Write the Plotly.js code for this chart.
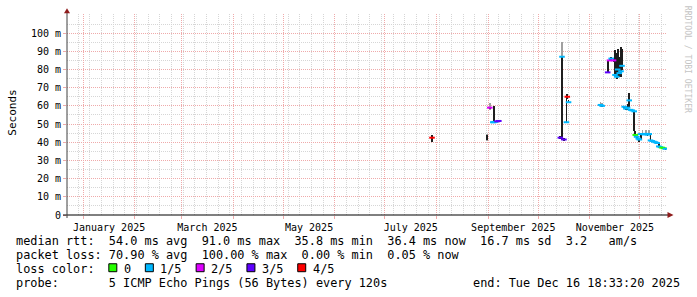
<!DOCTYPE html>
<html><head><meta charset="utf-8">
<script src="https://cdn.plot.ly/plotly-3.0.1.min.js"></script>
<style>html,body{margin:0;padding:0;background:#fff}#chart{width:697px;height:297px}</style>
</head><body><div id="chart"></div>
<script>
// ---- data (values in milliseconds) ----
const times = [
 '2025-07-29 06:00','2025-08-31 00:00','2025-09-01 22:00','2025-09-03 18:00','2025-09-04 06:00',
 '2025-09-05 06:00','2025-09-06 06:00','2025-09-07 08:00','2025-10-14 06:00','2025-10-15 06:00',
 '2025-10-16 10:00','2025-10-17 22:00','2025-10-18 10:00','2025-10-19 04:00','2025-11-07 08:00',
 '2025-11-08 08:00','2025-11-11 16:00','2025-11-12 18:00','2025-11-13 19:00','2025-11-15 04:00',
 '2025-11-16 01:00','2025-11-17 02:00','2025-11-17 16:00','2025-11-18 15:00','2025-11-19 16:00',
 '2025-11-20 06:00','2025-11-21 14:00','2025-11-22 14:00','2025-11-23 14:00','2025-11-24 14:00',
 '2025-11-25 10:00','2025-11-26 10:00','2025-11-27 14:00','2025-11-28 05:00','2025-11-29 00:00',
 '2025-11-30 00:00','2025-11-30 16:00','2025-12-01 14:00','2025-12-02 14:00','2025-12-03 14:00',
 '2025-12-04 14:00','2025-12-05 14:00','2025-12-06 14:00','2025-12-07 08:00','2025-12-08 08:00',
 '2025-12-09 08:00','2025-12-10 08:00','2025-12-11 08:00','2025-12-12 08:00','2025-12-13 08:00',
 '2025-12-14 08:00','2025-12-15 08:00','2025-12-16 08:00'];
const medianMs = [
 42.5,null,59,51,51, 51.2,51.5,51.7,42.5,87, 41.5,51,65,62,60.5,
 60,78.4,85,86,85, 77,76,80,78,79, 82,59.5,58.5,59,63,
 57.8,57.5,57,44,43, 42,41.5,44.5,44.5,44.3, 44.6,44.2,44.5,41,40.7,
 40.3,40,39.6,37.7,37.3, 37,36.7,36.4];
const smokeLoMs = [
 40,41,58.3,50.5,50.5, 50.7,51,51.2,42,41.5, 40.8,51,64,61.4,60,
 59.6,78,84.5,85.3,84, 76,75,77.8,76,76, 79.6,59,58,58,59,
 57.2,57,46,43.5,42.5, 41.4,40,41.5,44,43.8, 44,43.7,44,40.6,40.2,
 39.8,39.5,39.2,37.3,36.9, 36.5,36.2,35.9];
const smokeHiMs = [
 44,44,59.6,51.5,60, 51.8,52,52.3,43.2,87, 42.3,66,66.3,63,61,
 60.8,85,86,86.8,86, 90.5,88.8,91.5,87,92.3, 91.5,60.2,59.2,61,67,
 58.4,58,57.5,46,43.6, 42.6,42,45,45.2,45, 45.2,44.8,45,44.5,41.2,
 40.8,40.5,40.1,39.5,37.8, 37.5,37.2,36.9];
const outerLoMs = [
 null,40.8,57.7,null,null, null,null,null,null,41.5, null,null,null,null,59.6,
 59.5,null,null,null,null, null,null,null,null,null, null,null,null,null,null,
 null,null,null,null,null, null,null,null,44,null, 44,null,43.8,null,null,
 null,null,null,null,null, null,null,null];
const outerHiMs = [
 null,44.6,61.5,null,null, null,null,null,null,95, null,null,null,null,62,
 61.8,null,null,null,null, null,null,null,null,null, null,null,null,null,null,
 null,null,null,null,null, null,null,null,46.8,null, 47,null,46.5,null,null,
 null,null,null,null,null, null,null,null];
const lossClass = [
 4,null,2,1,1, 1,3,3,3,1, 3,1,4,1,1,
 1,3,2,1,2, 1,1,1,1,1, 1,1,1,1,1,
 1,1,1,0,1, 1,1,1,1,1, 1,1,1,1,1,
 1,1,1,1,1, 0,0,1];
const lossLabels = ['0','1/5','2/5','3/5','4/5'];
const lossColors = ['#26ff00','#00b8ff','#dd00ff','#5e00ff','#ff0000'];
const yTickVals = [0,0.01,0.02,0.03,0.04,0.05,0.06,0.07,0.08,0.09,0.1];
const yTickText = ['0','10 m','20 m','30 m','40 m','50 m','60 m','70 m','80 m','90 m','100 m'];
const rttLine  = 'median rtt:  54.0 ms avg  91.0 ms max  35.8 ms min  36.4 ms now  16.7 ms sd  3.2   am/s';
const lossLine = 'packet loss: 70.90 % avg  100.00 % max  0.00 % min  0.05 % now';
const lossHead = 'loss color:';
const probeLine = 'probe:       5 ICMP Echo Pings (56 Bytes) every 120s';
const endLine = 'end: Tue Dec 16 18:33:20 2025';

// ---- geometry helpers (pixels -> paper) ----
const W=697, H=297, L=67, R=30, T=13.5, B=81.5;
const PW=W-L-R, PH=H-T-B, BOT=T+PH;
const px=p=>(p-L)/PW, py=p=>(BOT-p)/PH;
const nb=s=>s.replace(/ /g,'\u00a0');
const MONO='DejaVu Sans Mono';
const s=v=>v==null?null:v/1000;

const traces=[
 {type:'bar',x:times,base:outerLoMs.map(s),y:outerHiMs.map((v,i)=>v==null?null:(v-outerLoMs[i])/1000),
  width:86400000*1.1,marker:{color:'#a0a0a0',line:{width:0}},hoverinfo:'skip',showlegend:false},
 {type:'bar',x:times,base:smokeLoMs.map(s),y:smokeHiMs.map((v,i)=>(v-smokeLoMs[i])/1000),
  width:86400000*1.1,marker:{color:'#1e1e1e',line:{width:0}},hoverinfo:'skip',showlegend:false},
 {type:'scatter',mode:'markers',x:times,y:medianMs.map(s),
  marker:{symbol:'line-ew',size:4,line:{width:2,color:lossClass.map(c=>c==null?'rgba(0,0,0,0)':lossColors[c])}},
  hoverinfo:'skip',showlegend:false}
];

const majorGrid='#efaaaa', minorGrid='#d6d6d6';
const arrowColor='#8f1c1c';

const ann=[], shapes=[];
const fs=11.86, cw=fs*0.602;
function txt(t,xp,yp,opts){ann.push(Object.assign({text:nb(t),xref:'paper',yref:'paper',x:px(xp),y:py(yp),
  xanchor:'left',yanchor:'middle',showarrow:false,borderpad:0,font:{family:MONO,size:fs,color:'#000'}},opts||{}));}
const X0=15;
txt(rttLine,X0,241.5);
txt(lossLine,X0,255.5);
txt(lossHead,X0,269.5);
let bx=16+13*cw;
lossLabels.forEach((lab,i)=>{
  shapes.push({type:'rect',xref:'paper',yref:'paper',x0:px(bx),x1:px(bx+8),y0:py(272.5),y1:py(264.5),
    fillcolor:lossColors[i],line:{color:'#000',width:1},layer:'above'});
  const lx=bx+15.1;
  txt(lab,lx-1,269.5);
  bx=lx+(lab.length+2)*cw;
});
txt(probeLine,X0,283.5);
txt(endLine,681,283.5,{xanchor:'right'});
ann.push({text:'Seconds',xref:'paper',yref:'paper',x:px(11.7),y:py(113),textangle:-90,showarrow:false,
  xanchor:'center',yanchor:'middle',font:{family:MONO,size:11,color:'#000'}});
ann.push({text:nb('RRDTOOL / TOBI OETIKER'),xref:'paper',yref:'paper',x:px(687.5),y:py(59),textangle:90,showarrow:false,
  xanchor:'center',yanchor:'middle',font:{family:MONO,size:8.1,color:'#c4c4c4'}});

// axis lines and arrows
shapes.push({type:'line',xref:'paper',yref:'paper',x0:px(63),x1:px(668),y0:py(215.5),y1:py(215.5),line:{color:'#000',width:1},layer:'above'});
shapes.push({type:'line',xref:'paper',yref:'paper',x0:px(67),x1:px(67),y0:py(218.5),y1:py(12),line:{color:'#404040',width:1},layer:'above'});
shapes.push({type:'path',xref:'paper',yref:'paper',
  path:`M ${px(667.5)} ${py(212.5)} L ${px(673.5)} ${py(215.5)} L ${px(667.5)} ${py(218.5)} Z`,fillcolor:arrowColor,line:{width:0},layer:'above'});
shapes.push({type:'path',xref:'paper',yref:'paper',
  path:`M ${px(64)} ${py(12.7)} L ${px(67)} ${py(7.7)} L ${px(70)} ${py(12.7)} Z`,fillcolor:arrowColor,line:{width:0},layer:'above'});

const layout={
 width:W,height:H,margin:{l:L,r:R,t:T,b:B,pad:0},paper_bgcolor:'#fff',plot_bgcolor:'#fff',
 barmode:'overlay',bargap:0,showlegend:false,
 font:{family:MONO,size:10,color:'#000'},
 xaxis:{type:'date',range:['2024-12-22 06:00','2025-12-17 06:00'],
  tick0:'2025-01-01',dtick:'M1',tickformat:'%B %Y',ticklabelmode:'period',ticklabelstep:2,
  ticks:'outside',ticklen:3,tickcolor:majorGrid,tickwidth:1,
  showgrid:true,gridcolor:majorGrid,griddash:'1px,1px',gridwidth:1,
  minor:{tick0:'2024-12-29',dtick:7*86400000,showgrid:true,gridcolor:minorGrid,griddash:'1px,1px',gridwidth:1},
  showline:false,zeroline:false,tickfont:{family:MONO,size:10,color:'#000'},fixedrange:true},
 yaxis:{range:[0,0.1105],tickmode:'array',tickvals:yTickVals,ticktext:yTickText,
  ticks:'outside',ticklen:3,tickcolor:majorGrid,tickwidth:1,
  showgrid:true,gridcolor:majorGrid,griddash:'1px,1px',gridwidth:1,
  minor:{dtick:0.005,tick0:0,showgrid:true,gridcolor:minorGrid,griddash:'1px,1px',gridwidth:1},
  showline:false,zeroline:false,tickfont:{family:MONO,size:10,color:'#000'},fixedrange:true},
 annotations:ann,shapes:shapes
};
Plotly.newPlot('chart',traces,layout,{staticPlot:true,displayModeBar:false});
</script></body></html>
